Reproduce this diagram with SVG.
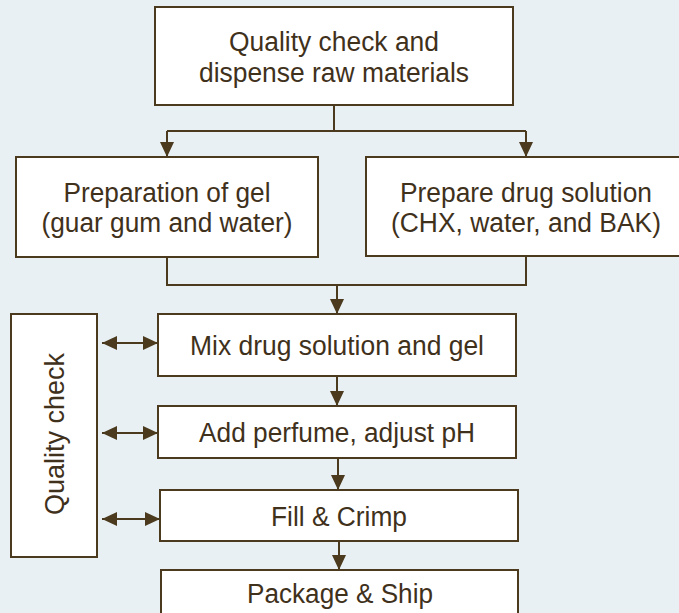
<svg xmlns="http://www.w3.org/2000/svg" width="679" height="613" viewBox="0 0 679 613">
<style>
.box{fill:#ffffff;stroke:#4b3a1e;stroke-width:2}
.t{font-family:"Liberation Sans",Arial,sans-serif;font-size:27px;fill:#3f311b;text-anchor:middle}
.c{fill:none;stroke:#4b3a1e;stroke-width:2}
</style>
<defs>
<marker id="ah" markerUnits="userSpaceOnUse" markerWidth="16" markerHeight="16" viewBox="0 0 16 16" refX="15" refY="8" orient="auto-start-reverse">
<path d="M0,1 L15,8 L0,15 Z" fill="#4b3a1e"/>
</marker>
</defs>
<rect x="0" y="0" width="679" height="613" fill="#e8f0f4"/>
<g id="connectors">
<path class="c" d="M334,105 V131"/>
<path class="c" d="M167,131 H526"/>
<path class="c" d="M167,131 V157" marker-end="url(#ah)"/>
<path class="c" d="M526,131 V157" marker-end="url(#ah)"/>
<path class="c" d="M167,257 V285 H526 V257"/>
<path class="c" d="M337,285 V314" marker-end="url(#ah)"/>
<path class="c" d="M337,376 V406" marker-end="url(#ah)"/>
<path class="c" d="M338,458 V490" marker-end="url(#ah)"/>
<path class="c" d="M339,541 V570" marker-end="url(#ah)"/>
<path class="c" d="M102,343 H158" marker-start="url(#ah)" marker-end="url(#ah)"/>
<path class="c" d="M102,433 H158" marker-start="url(#ah)" marker-end="url(#ah)"/>
<path class="c" d="M102,519 H160" marker-start="url(#ah)" marker-end="url(#ah)"/>
</g>
<g id="n-dispense">
<rect class="box" x="155" y="7" width="358" height="98"/>
<text class="t" x="334" y="51" textLength="210" lengthAdjust="spacingAndGlyphs">Quality check and</text>
<text class="t" x="334" y="82" textLength="270" lengthAdjust="spacingAndGlyphs">dispense raw materials</text>
</g>
<g id="n-gel">
<rect class="box" x="16" y="157" width="302" height="100"/>
<text class="t" x="167" y="202" textLength="207" lengthAdjust="spacingAndGlyphs">Preparation of gel</text>
<text class="t" x="167" y="232" textLength="251" lengthAdjust="spacingAndGlyphs">(guar gum and water)</text>
</g>
<g id="n-drug">
<rect class="box" x="366" y="157" width="330" height="99"/>
<text class="t" x="526" y="202" textLength="252" lengthAdjust="spacingAndGlyphs">Prepare drug solution</text>
<text class="t" x="526" y="232" textLength="270" lengthAdjust="spacingAndGlyphs">(CHX, water, and BAK)</text>
</g>
<g id="n-mix">
<rect class="box" x="158" y="314" width="358" height="62"/>
<text class="t" x="337" y="355" textLength="294" lengthAdjust="spacingAndGlyphs">Mix drug solution and gel</text>
</g>
<g id="n-perfume">
<rect class="box" x="158" y="406" width="358" height="52"/>
<text class="t" x="337" y="442" textLength="276" lengthAdjust="spacingAndGlyphs">Add perfume, adjust pH</text>
</g>
<g id="n-fill">
<rect class="box" x="160" y="490" width="358" height="51"/>
<text class="t" x="339" y="526" textLength="136" lengthAdjust="spacingAndGlyphs">Fill &amp; Crimp</text>
</g>
<g id="n-package">
<rect class="box" x="161" y="570" width="357" height="60"/>
<text class="t" x="340" y="603" textLength="186" lengthAdjust="spacingAndGlyphs">Package &amp; Ship</text>
</g>
<g id="n-quality">
<rect class="box" x="11" y="314" width="86" height="243"/>
<text class="t" transform="translate(64,434) rotate(-90)" textLength="162" lengthAdjust="spacingAndGlyphs">Quality check</text>
</g>
</svg>
